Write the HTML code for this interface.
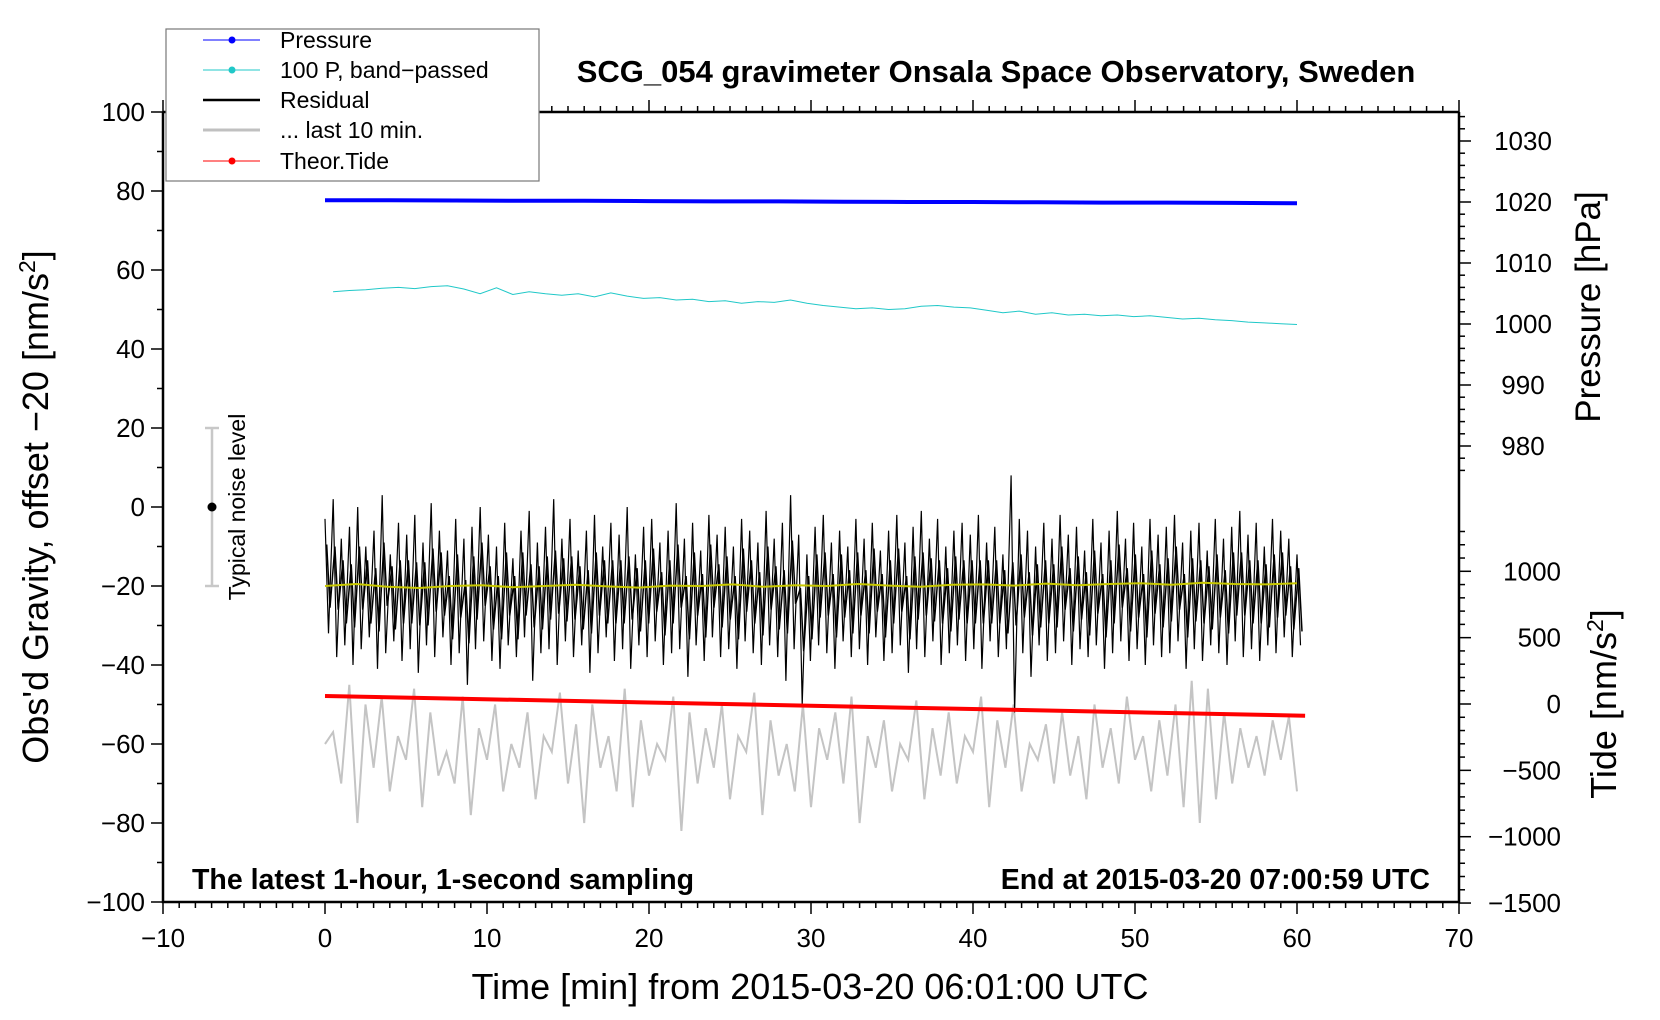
<!DOCTYPE html>
<html><head><meta charset="utf-8"><style>
html,body{margin:0;padding:0;background:#fff;}
svg{display:block;font-family:"Liberation Sans",sans-serif;}
</style></head><body>
<svg id="chart" width="1660" height="1020" viewBox="0 0 1660 1020" xmlns="http://www.w3.org/2000/svg">
<rect width="1660" height="1020" fill="#fff"/>
<g id="plot"></g>
<g id="axes"></g>
<text x="996" y="82" font-size="31" font-weight="bold" text-anchor="middle">SCG_054 gravimeter Onsala Space Observatory, Sweden</text>
<text x="192" y="889" font-size="28.5" font-weight="bold">The latest 1-hour, 1-second sampling</text>
<text x="1430" y="889" font-size="28.5" font-weight="bold" text-anchor="end">End at 2015-03-20 07:00:59 UTC</text>
<text x="810" y="999" font-size="36" text-anchor="middle">Time [min] from 2015-03-20 06:01:00 UTC</text>
<text transform="translate(48,507) rotate(-90)" font-size="36" text-anchor="middle">Obs'd Gravity, offset −20 [nm/s<tspan baseline-shift="super" font-size="23">2</tspan>]</text>
<text transform="translate(1600,307) rotate(-90)" font-size="35" text-anchor="middle">Pressure [hPa]</text>
<text transform="translate(1616,704) rotate(-90)" font-size="36" text-anchor="middle">Tide [nm/s<tspan baseline-shift="super" font-size="23">2</tspan>]</text>
<g>
<line x1="212" y1="428" x2="212" y2="586" stroke="#c8c8c8" stroke-width="2.5"/>
<line x1="205" y1="428" x2="219" y2="428" stroke="#c8c8c8" stroke-width="2.5"/>
<line x1="205" y1="586" x2="219" y2="586" stroke="#c8c8c8" stroke-width="2.5"/>
<circle cx="212" cy="507" r="4.5" fill="#000"/>
<text transform="translate(245,507) rotate(-90)" font-size="23" text-anchor="middle">Typical noise level</text>
</g>
<g>
<rect x="166" y="29" width="373" height="152" fill="#fff" stroke="#777" stroke-width="1.2"/>
<g><line x1="203" y1="40" x2="260" y2="40" stroke="#0000ff" stroke-width="1"/><circle cx="232" cy="40" r="3.5" fill="#0000ff"/><text x="280" y="48" font-size="23">Pressure</text></g>
<g><line x1="203" y1="70" x2="260" y2="70" stroke="#20c8c8" stroke-width="1"/><circle cx="232" cy="70" r="3.5" fill="#20c8c8"/><text x="280" y="78" font-size="23">100 P, band−passed</text></g>
<g><line x1="203" y1="100" x2="260" y2="100" stroke="#000" stroke-width="2.5"/><text x="280" y="108" font-size="23">Residual</text></g>
<g><line x1="203" y1="130" x2="260" y2="130" stroke="#c0c0c0" stroke-width="3"/><text x="280" y="138" font-size="23">... last 10 min.</text></g>
<g><line x1="203" y1="161" x2="260" y2="161" stroke="#ff0000" stroke-width="1"/><circle cx="232" cy="161" r="3.5" fill="#ff0000"/><text x="280" y="169" font-size="23">Theor.Tide</text></g>
</g>
</svg>
<script>
const xTicks=[-10,0,10,20,30,40,50,60,70];
const yTicks=[100,80,60,40,20,0,-20,-40,-60,-80,-100];
const pTicks=[1030,1020,1010,1000,990,980];
const tideTicks=[1000,500,0,-500,-1000,-1500];
const pressureVals=[1020.3,1020.3,1020.25,1020.2,1020.2,1020.15,1020.1,1020.1,1020.05,1020.0,1020.0,1019.95,1019.9,1019.9,1019.85,1019.8];
const bandVals=[54.5,54.8,55,55.4,55.6,55.3,55.8,56,55.2,54,55.5,53.8,54.5,54,53.6,54,53.2,54.2,53.4,52.8,53,52.4,52.6,52,52.2,51.6,52,51.8,52.4,51.6,51,50.6,50.2,50.4,50,50.2,50.8,51,50.6,50.4,49.8,49.2,49.6,48.8,49.2,48.6,48.8,48.4,48.6,48.2,48.4,48,47.6,47.8,47.4,47.2,46.8,46.6,46.4,46.2];
const resHigh=[-3,2,-8,-5,0,-10,-6,3,-12,-4,-7,-2,-9,1,-6,-11,-3,-8,-5,0,-7,-10,-4,-13,-6,-1,-9,-5,2,-8,-3,-11,-6,-2,-10,-4,-7,0,-12,-5,-3,-9,-6,1,-8,-4,-11,-2,-7,-5,-10,-3,-6,-9,-1,-8,-4,3,-7,-12,-5,-2,-9,-6,-10,-3,-8,-4,-11,-6,-2,-9,-5,-1,-8,-3,-10,-6,-4,-7,-2,-9,-5,-12,8,-3,-6,-10,-4,-8,-2,-7,-5,-11,-3,-9,-6,-1,-8,-4,-10,-3,-7,-5,-2,-9,-6,-4,-11,-3,-8,-5,-1,-7,-4,-10,-3,-6,-8,-12];
const resLow=[-32,-38,-35,-40,-36,-33,-41,-37,-34,-39,-36,-42,-35,-38,-33,-40,-37,-45,-36,-34,-39,-41,-35,-38,-33,-44,-37,-36,-40,-34,-38,-35,-42,-37,-33,-39,-36,-41,-35,-38,-34,-40,-37,-36,-43,-35,-39,-33,-38,-36,-41,-34,-37,-40,-35,-38,-44,-36,-50,-39,-35,-37,-41,-34,-38,-36,-40,-33,-39,-37,-35,-42,-36,-38,-34,-40,-37,-35,-39,-36,-41,-34,-38,-36,-52,-37,-43,-35,-39,-37,-34,-40,-36,-38,-35,-41,-37,-34,-39,-36,-40,-35,-38,-37,-34,-41,-36,-39,-35,-37,-40,-34,-38,-36,-39,-35,-37,-33,-38,-35];
const smoothVals=[-20,-19.5,-20.2,-20.5,-20,-19.8,-20.3,-20,-19.7,-20.1,-20.4,-19.9,-20,-19.6,-20.2,-19.8,-20,-19.5,-19.9,-20.2,-19.7,-19.6,-19.9,-19.4,-19.8,-19.5,-19.3,-19.7,-19.2,-19.5,-19.6,-19.3];
const grayVals=[-60,-57,-70,-45,-80,-50,-66,-48,-72,-58,-64,-46,-76,-52,-68,-62,-70,-48,-78,-56,-64,-50,-72,-60,-66,-52,-74,-58,-62,-47,-70,-55,-80,-50,-66,-58,-72,-46,-76,-54,-68,-60,-64,-48,-82,-52,-70,-56,-66,-50,-74,-58,-62,-47,-78,-54,-68,-60,-72,-50,-76,-56,-64,-52,-70,-48,-80,-58,-66,-54,-72,-60,-64,-49,-74,-56,-68,-52,-70,-58,-62,-48,-76,-54,-66,-50,-72,-60,-64,-55,-70,-52,-68,-58,-74,-50,-66,-56,-70,-48,-64,-58,-72,-54,-68,-50,-76,-44,-80,-46,-74,-52,-70,-56,-66,-58,-68,-54,-64,-53,-72];
const tideVals=[60,-88];
const tideRange=[0,60.5];

const X0=163,X1=1459,Y0=112,Y1=902;
const xs=v=>X0+(v+10)/80*(X1-X0);
const ys=v=>Y0+(100-v)/200*(Y1-Y0);
const ps=v=>202-(v-1020)*6.1;
const ts=v=>704-v*0.1327;
const NS='http://www.w3.org/2000/svg';
const plot=document.getElementById('plot'),axes=document.getElementById('axes');
function mk(tag,attrs,parent){const e=document.createElementNS(NS,tag);for(const k in attrs)e.setAttribute(k,attrs[k]);parent.appendChild(e);return e;}
function series(vals,x0,x1,yf){const n=vals.length;return vals.map((v,i)=>xs(x0+(x1-x0)*i/(n-1)).toFixed(1)+','+yf(v).toFixed(1)).join(' ');}

let e;
e=mk('polyline',{points:series(grayVals,0,60,ys),fill:'none',stroke:'#c4c4c4','stroke-width':2},plot);


let rp=[];const n=resHigh.length;
for(let i=0;i<n;i++){const x=xs(60*i/(n-1));rp.push(x.toFixed(1)+','+ys(resHigh[i]).toFixed(1));rp.push((x+3.5).toFixed(1)+','+ys(resLow[i]).toFixed(1));}
e=mk('polyline',{points:rp.join(' '),fill:'none',stroke:'#000','stroke-width':1.2},plot);


let rp2=[];
for(let i=0;i<n;i++){const x=xs(60*i/(n-1));rp2.push((x+1.7).toFixed(1)+','+ys((resHigh[i]+resLow[i])/2+8).toFixed(1));rp2.push((x+5).toFixed(1)+','+ys((resHigh[i]+resLow[i])/2-8).toFixed(1));}
e=mk('polyline',{points:rp2.join(' '),fill:'none',stroke:'#000','stroke-width':1.5},plot);


e=mk('polyline',{points:series(smoothVals,0,60,ys),fill:'none',stroke:'#c8c800','stroke-width':2},plot);


e=mk('polyline',{points:series(pressureVals,0,60,ps),fill:'none',stroke:'#0000ff','stroke-width':4},plot);


e=mk('polyline',{points:series(bandVals,0.5,60,ys),fill:'none',stroke:'#20c8c8','stroke-width':1},plot);


e=mk('polyline',{points:series(tideVals,tideRange[0],tideRange[1],ts),fill:'none',stroke:'#ff0000','stroke-width':4},plot);



e=mk('path',{d:`M${X0},${Y0}V${Y1}H${X1}V${Y0}`,fill:'none',stroke:'#000','stroke-width':2.5},axes);


e=mk('line',{x1:X0,y1:Y0,x2:X1,y2:Y0,stroke:'#000','stroke-width':2.5},axes);


for(let m=-10;m<=70;m++){const x=xs(m);const maj=m%10===0;
 mk('line',{x1:x,y1:Y1,x2:x,y2:Y1+(maj?12:6),stroke:'#000','stroke-width':1.5},axes);
 mk('line',{x1:x,y1:Y0,x2:x,y2:Y0-(maj?12:6),stroke:'#000','stroke-width':1.5},axes);}
xTicks.forEach(v=>{const t=mk('text',{x:xs(v),y:Y1+45,'font-size':26,'text-anchor':'middle'},axes);t.textContent=String(v).replace('-','−');
 
 });
for(let v=-100;v<=100;v+=10){const y=ys(v);mk('line',{x1:X0,y1:y,x2:X0-(v%20===0?12:6),y2:y,stroke:'#000','stroke-width':1.5},axes);}
yTicks.forEach(v=>{const t=mk('text',{x:X0-18,y:ys(v)+9,'font-size':26,'text-anchor':'end'},axes);t.textContent=String(v).replace('-','−');
 
 });
for(let v=976;v<=1034;v+=2){const y=ps(v);if(y<Y0)continue;mk('line',{x1:X1,y1:y,x2:X1+(v%10===0?12:6),y2:y,stroke:'#000','stroke-width':1.5},axes);}
pTicks.forEach(v=>{const t=mk('text',{x:X1+64,y:ps(v)+9,'font-size':26,'text-anchor':'middle'},axes);t.textContent=v;
 
 });
for(let v=-1500;v<=1300;v+=100){const y=ts(v);mk('line',{x1:X1,y1:y,x2:X1+(v%500===0?12:6),y2:y,stroke:'#000','stroke-width':1.5},axes);}
tideTicks.forEach(v=>{const t=mk('text',{x:X1+102,y:ts(v)+9,'font-size':26,'text-anchor':'end'},axes);t.textContent=String(v).replace('-','−');
 
 });
</script>
</body></html>
